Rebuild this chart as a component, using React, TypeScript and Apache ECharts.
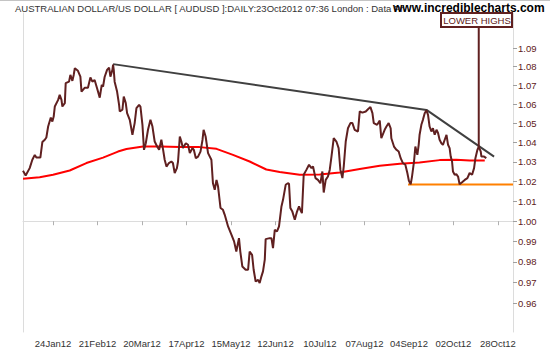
import React, { useEffect, useRef } from "react";
import * as echarts from "echarts";

// x axis: trading-day index; ticks every 20 trading days
const tickDays = [14, 34, 54, 74, 94, 114, 134, 154, 174, 194, 214];
const tickLabels = ["24Jan12", "21Feb12", "20Mar12", "17Apr12", "15May12", "12Jun12", "10Jul12", "07Aug12", "04Sep12", "02Oct12", "28Oct12"];
const priceTicks = [0.96, 0.97, 0.98, 0.99, 1.0, 1.01, 1.02, 1.03, 1.04, 1.05, 1.06, 1.07, 1.08, 1.09];

const priceDays = [
  0.5, 1.7, 3.5, 4.7, 5.8, 6.5, 8.3, 9.2, 10.3, 11.0, 11.8, 13.0, 13.7, 14.3, 14.8, 16.3, 17.0, 17.8, 18.2, 19.3,
  19.7, 21.2, 21.8, 22.7, 23.3, 23.8, 25.2, 26.3, 26.8, 28.3, 29.7, 30.8, 31.7, 32.7, 33.8, 35.0, 35.9, 36.5, 37.2, 38.3,
  39.2, 39.8, 40.7, 41.0, 41.3, 41.7, 42.8, 43.7, 44.0, 45.2, 45.8, 46.7, 47.3, 48.5, 49.7, 50.7, 51.5, 52.7, 53.3, 54.2,
  54.9, 55.7, 56.7, 57.8, 58.7, 59.7, 60.8, 61.7, 62.7, 63.5, 64.2, 65.0, 66.1, 67.2, 67.9, 68.7, 69.7, 70.2, 71.0, 71.7,
  72.4, 73.7, 74.7, 75.5, 76.7, 77.3, 78.2, 79.2, 80.3, 81.2, 81.7, 82.6, 83.7, 85.2, 85.9, 86.7, 87.5, 88.2, 89.3, 90.4,
  91.2, 92.7, 94.2, 95.4, 96.4, 97.6, 98.2, 99.1, 100.6, 101.7, 102.4, 103.5, 104.2, 105.1, 106.2, 106.9, 107.7, 108.4, 109.2, 109.6,
  111.4, 112.2, 112.9, 113.7, 114.7, 115.6, 116.7, 117.4, 118.6, 119.6, 120.1, 120.7, 121.6, 122.7, 123.7, 124.6, 125.2, 125.9, 126.7, 127.9,
  129.1, 130.2, 130.9, 132.0, 133.1, 134.2, 135.1, 135.7, 136.6, 137.6, 138.4, 139.2, 140.2, 141.4, 142.4, 143.2, 144.1, 144.7, 145.6, 146.6,
  147.7, 148.6, 149.6, 151.1, 151.9, 153.1, 154.6, 155.6, 156.7, 157.6, 158.2, 159.7, 160.9, 161.6, 163.1, 163.9, 164.9, 165.8, 166.1, 167.3,
  168.4, 169.4, 170.3, 171.3, 172.4, 173.3, 174.0, 174.8, 175.4, 176.3, 176.9, 177.8, 178.4, 178.8, 179.6, 180.3, 181.1, 181.9, 182.6, 183.3,
  184.1, 184.8, 185.6, 186.4, 187.1, 187.8, 188.6, 189.3, 190.1, 190.9, 191.6, 192.3, 192.8, 193.4, 193.8, 194.6, 195.3, 196.1, 196.8, 197.9,
  199.1, 200.3, 201.3, 202.4, 203.3, 203.9, 204.8, 205.4, 206.3, 206.6, 207.8, 208.8,
];
const priceValues = [
  1.0254, 1.023, 1.0268, 1.0311, 1.0336, 1.0322, 1.0322, 1.0402, 1.0414, 1.0426, 1.0483, 1.053, 1.0509, 1.0535, 1.0588, 1.0623, 1.065, 1.0623, 1.0588, 1.0606,
  1.0712, 1.072, 1.0756, 1.0724, 1.0756, 1.0792, 1.0778, 1.0747, 1.0667, 1.0688, 1.0688, 1.0742, 1.072, 1.0729, 1.0685, 1.0635, 1.0703, 1.0694, 1.0745, 1.0783,
  1.0795, 1.0747, 1.0783, 1.0812, 1.0783, 1.072, 1.0667, 1.0597, 1.0562, 1.0571, 1.0641, 1.0606, 1.0553, 1.0518, 1.044, 1.0501, 1.0579, 1.0597, 1.0588, 1.0492,
  1.0362, 1.0396, 1.0466, 1.0518, 1.0483, 1.0405, 1.0379, 1.0362, 1.0414, 1.0362, 1.0311, 1.0276, 1.0294, 1.0302, 1.0294, 1.0243, 1.0268, 1.0302, 1.0431, 1.0405,
  1.0371, 1.0396, 1.0388, 1.0345, 1.0371, 1.0362, 1.0319, 1.0327, 1.0353, 1.0413, 1.0466, 1.0431, 1.0345, 1.0311, 1.0191, 1.0158, 1.0208, 1.0174, 1.0066, 1.0057,
  1.0032, 0.9974, 0.9933, 0.99, 0.985, 0.9916, 0.985, 0.9777, 0.9761, 0.9761, 0.985, 0.9834, 0.9761, 0.9704, 0.9712, 0.9697, 0.9729, 0.9753, 0.981, 0.9911,
  0.9916, 0.9916, 0.9867, 0.9957, 0.9949, 0.9974, 1.0074, 1.0107, 1.0183, 1.0191, 1.0188, 1.0066, 1.0048, 1.0007, 1.0048, 1.0074, 1.0057, 1.004, 1.0234, 1.0259,
  1.0285, 1.0268, 1.0276, 1.0217, 1.0208, 1.0191, 1.0251, 1.0144, 1.0208, 1.0225, 1.0259, 1.0328, 1.0422, 1.0405, 1.0371, 1.0259, 1.0217, 1.0276, 1.0405, 1.0474,
  1.0501, 1.0501, 1.0466, 1.0457, 1.0562, 1.0556, 1.0562, 1.0574, 1.0585, 1.0553, 1.0501, 1.0492, 1.0514, 1.0422, 1.0466, 1.0483, 1.0501, 1.0474, 1.0422, 1.0379,
  1.0362, 1.0353, 1.0319, 1.0294, 1.0285, 1.0243, 1.0203, 1.0186, 1.0225, 1.0302, 1.0379, 1.0336, 1.0388, 1.044, 1.0492, 1.0518, 1.0553, 1.0568, 1.0544, 1.0483,
  1.0457, 1.0474, 1.044, 1.0466, 1.0449, 1.0414, 1.0396, 1.0388, 1.0414, 1.044, 1.0388, 1.0371, 1.0327, 1.0302, 1.0251, 1.0234, 1.0237, 1.0225, 1.0186, 1.0196,
  1.0208, 1.0217, 1.0243, 1.0234, 1.0268, 1.0319, 1.0362, 1.0379, 1.0353, 1.0327, 1.0327, 1.0319,
];

const maDays = [0.5, 8.0, 14.0, 21.5, 29.0, 36.5, 43.2, 47.0, 54.5, 62.0, 71.0, 79.9, 87.5, 94.9, 102.4, 109.9, 115.9, 124.9, 133.9, 142.9, 151.9, 160.9, 169.9, 178.8, 187.8, 195.3, 201.3, 208.1];
const maValues = [1.0214, 1.0221, 1.0234, 1.0256, 1.0294, 1.0322, 1.0353, 1.0366, 1.0379, 1.0379, 1.0376, 1.0376, 1.0367, 1.0336, 1.0302, 1.0261, 1.0248, 1.0234, 1.0236, 1.0246, 1.0263, 1.028, 1.029, 1.0297, 1.0309, 1.0311, 1.0307, 1.0307];

const trendDays = [41.0, 181.9, 212.3];
const trendValues = [1.0814, 1.057, 1.0327];

const supportDays = [173.6, 220.8];
const supportValues = [1.0185, 1.0185];

const calloutDays = [205.4, 205.4];
const calloutValues = [1.0379, 1.1016];

const axisMinDay = 0.5;
const axisMaxDay = 220.8;
const axisMinPrice = 0.9463;
const axisMaxPrice = 1.1093;

const FONT = "'Liberation Sans', Arial, sans-serif";
const MAROON = "#602020";

const toPts = (days: number[], vals: number[]) => days.map((d, i) => [d, Math.log(vals[i])]);

export default function App() {
  const ref = useRef<HTMLDivElement>(null);
  useEffect(() => {
    document.body.style.margin = "0";
    if (!ref.current) return;
    const chart = echarts.init(ref.current, undefined, { renderer: "svg" });
    const lineSeries = (name: string, days: number[], vals: number[], color: string, width: number, z: number) => ({
      name,
      type: "line",
      data: toPts(days, vals),
      showSymbol: false,
      symbol: "none",
      lineStyle: { color, width },
      z,
      silent: true,
    });
    chart.setOption({
      animation: false,
      backgroundColor: "#ffffff",
      grid: { left: 23, right: 37, top: 13, bottom: 18 },
      xAxis: {
        type: "value",
        min: axisMinDay,
        max: axisMaxDay,
        splitLine: { show: false },
        axisLine: { show: true, lineStyle: { color: "#dcdcdc", width: 1 } },
        axisTick: { show: true, customValues: tickDays, length: 4, lineStyle: { color: "#b0b0b0" } },
        axisLabel: {
          customValues: tickDays,
          formatter: (v: number) => {
            const i = tickDays.indexOf(Math.round(v));
            return i >= 0 ? tickLabels[i] : "";
          },
          color: "#333333",
          fontSize: 9.5,
          fontFamily: FONT,
          margin: 6,
        },
      },
      yAxis: [
        {
          type: "value",
          position: "right",
          min: Math.log(axisMinPrice),
          max: Math.log(axisMaxPrice),
          splitLine: { show: false },
          axisLine: { show: true, lineStyle: { color: "#dcdcdc", width: 1 } },
          axisTick: { show: true, customValues: priceTicks.map((p) => Math.log(p)), length: 4, lineStyle: { color: "#a0a0a0" } },
          axisLabel: {
            customValues: priceTicks.map((p) => Math.log(p)),
            formatter: (v: number) => Math.exp(v).toFixed(2),
            color: MAROON,
            fontSize: 9.5,
            fontFamily: FONT,
            margin: 5,
          },
        },
        {
          type: "value",
          position: "left",
          min: Math.log(axisMinPrice),
          max: Math.log(axisMaxPrice),
          splitLine: { show: false },
          axisLine: { show: true, lineStyle: { color: "#dcdcdc", width: 1 } },
          axisTick: { show: false },
          axisLabel: { show: false },
        },
      ],
      series: [
        lineSeries("MA", maDays, maValues, "#ff0000", 2, 2),
        lineSeries("Support", supportDays, supportValues, "#ff8000", 2, 2),
        lineSeries("Trend", trendDays, trendValues, "#404040", 2, 3),
        lineSeries("AUDUSD", priceDays, priceValues, MAROON, 2, 4),
        lineSeries("Callout", calloutDays, calloutValues, MAROON, 2, 5),
      ],
      graphic: [
        { type: "rect", shape: { x: 0, y: 0, width: 550, height: 1 }, style: { fill: "#c4c4c4" }, silent: true },
        {
          type: "text",
          x: 15,
          y: 3,
          style: {
            text: "AUSTRALIAN DOLLAR/US DOLLAR [ AUDUSD ]:DAILY:23Oct2012 07:36 London : Data Pr",
            fill: "#333333",
            fontSize: 9.5,
            fontFamily: FONT,
          },
          silent: true,
        },
        {
          type: "text",
          x: 393,
          y: 2,
          style: { text: "www.incrediblecharts.com", fill: "#000000", fontSize: 12, fontWeight: "bold", fontFamily: FONT },
          silent: true,
        },
        {
          type: "rect",
          shape: { x: 441, y: 13, width: 71, height: 14 },
          style: { fill: "#ffffff", stroke: MAROON, lineWidth: 2 },
          z: 10,
          silent: true,
        },
        {
          type: "text",
          x: 477,
          y: 20,
          style: { text: "LOWER HIGHS", fill: MAROON, fontSize: 9.5, fontFamily: FONT, align: "center", verticalAlign: "middle" },
          z: 11,
          silent: true,
        },
      ],
    });
    return () => chart.dispose();
  }, []);
  return <div ref={ref} style={{ position: "absolute", left: 0, top: 0, width: 550, height: 350 }} />;
}
